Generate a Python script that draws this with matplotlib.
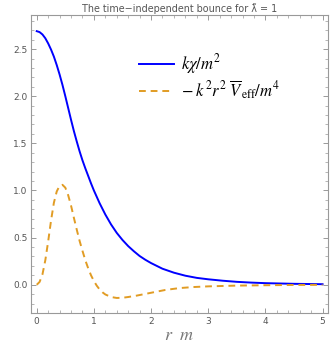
import matplotlib
matplotlib.use("Agg")
import matplotlib.pyplot as plt
from matplotlib.ticker import MultipleLocator, FormatStrFormatter

# values
r_chi = [0.0, 0.05, 0.1, 0.15, 0.2, 0.25, 0.3, 0.35, 0.4, 0.45, 0.5, 0.55,
         0.6, 0.65, 0.7, 0.75, 0.8, 0.85, 0.9, 0.95, 1.0, 1.1, 1.2, 1.3, 1.4,
         1.5, 1.6, 1.7, 1.8, 1.9, 2.0, 2.2, 2.4, 2.6, 2.8, 3.0, 3.25, 3.5,
         3.75, 4.0, 4.5, 5.0]
chi = [2.69, 2.68, 2.655, 2.615, 2.56, 2.495, 2.42, 2.33, 2.23, 2.12, 2.00,
       1.875, 1.75, 1.63, 1.52, 1.415, 1.32, 1.235, 1.155, 1.075, 1.00, 0.865,
       0.745, 0.64, 0.55, 0.475, 0.41, 0.355, 0.305, 0.265, 0.23, 0.17, 0.128,
       0.096, 0.073, 0.058, 0.043, 0.031, 0.023, 0.017, 0.010, 0.006]

r_v = [0.0, 0.05, 0.1, 0.15, 0.2, 0.25, 0.3, 0.35, 0.4, 0.45, 0.5, 0.55, 0.6,
       0.65, 0.7, 0.75, 0.8, 0.85, 0.9, 0.95, 1.0, 1.05, 1.1, 1.15, 1.2, 1.3,
       1.4, 1.5, 1.6, 1.75, 2.0, 2.25, 2.5, 2.75, 3.0, 3.5, 4.0, 4.5, 5.0]
veff = [0.0, 0.03, 0.11, 0.26, 0.46, 0.68, 0.87, 0.99, 1.05, 1.06, 1.03, 0.95,
        0.84, 0.71, 0.585, 0.465, 0.36, 0.26, 0.175, 0.10, 0.04, -0.01, -0.05,
        -0.08, -0.103, -0.13, -0.14, -0.138, -0.13, -0.115, -0.085, -0.055,
        -0.035, -0.024, -0.017, -0.009, -0.005, -0.002, -0.001]

blue = "#0000FF"
orange = "#E19C24"
gray = "#555555"

plt.rcParams['mathtext.fontset'] = 'stix'

fig = plt.figure(figsize=(3.3, 3.44), dpi=100)
ax = fig.add_axes([0.094, 0.090, 0.899, 0.866])

ax.plot(r_chi, chi, color=blue, lw=1.4, label=r'$k\chi/m^2$')
ax.plot(r_v, veff, color=orange, lw=1.4, dashes=(3.5, 2.5),
        label=r'$-\;k^2r^2\;\overline{V}_{\,\mathrm{eff}}/m^4$')

ax.set_xlim(-0.10, 5.09)
ax.set_ylim(-0.30, 2.86)

ax.xaxis.set_major_locator(MultipleLocator(1))
ax.xaxis.set_minor_locator(MultipleLocator(0.2))
ax.yaxis.set_major_locator(MultipleLocator(0.5))
ax.yaxis.set_minor_locator(MultipleLocator(0.1))
ax.yaxis.set_major_formatter(FormatStrFormatter('%.1f'))

ax.tick_params(which='both', direction='in', top=True, right=True,
               color='#999999', labelcolor=gray, labelsize=6.5, pad=2.5)
ax.tick_params(which='major', length=3.5, width=0.7)
ax.tick_params(which='minor', length=2, width=0.5)
for s in ax.spines.values():
    s.set_color('#999999')
    s.set_linewidth(0.8)

ax.set_xlabel(r'$r\ \ m$', fontsize=13, color='#777777', labelpad=0)
ax.set_title('The time\u2212independent bounce for \u03bb\u0303 = 1',
             fontsize=6.9, color=gray, pad=2)

ax.legend(loc='upper left', bbox_to_anchor=(0.33, 0.91), frameon=False,
          fontsize=12, handlelength=2.1, handletextpad=0.45, labelspacing=0.15,
          borderaxespad=0.2)

fig.savefig("out.png", dpi=100)
